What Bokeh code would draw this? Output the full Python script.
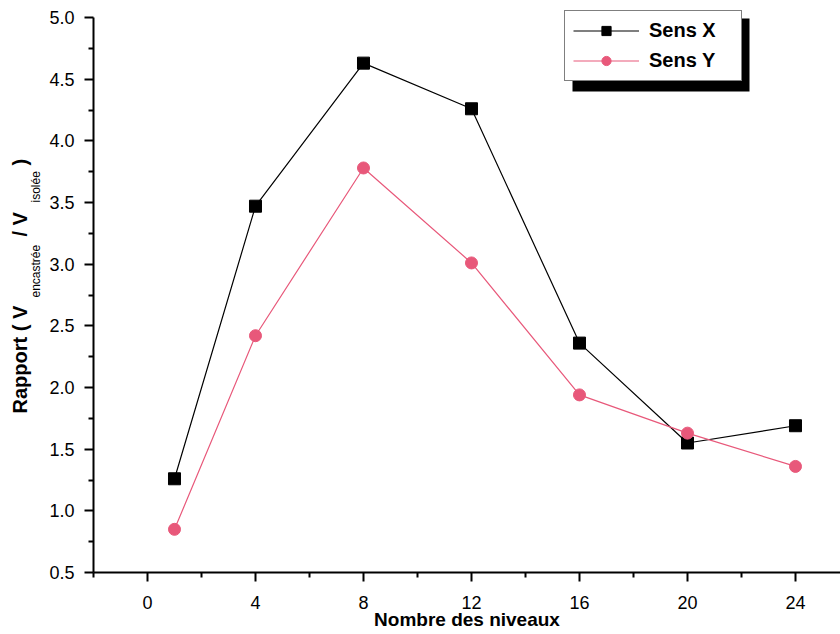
import math
from bokeh.plotting import figure
from bokeh.layouts import row
from bokeh.models import (FixedTicker, Legend, LegendItem, Label, BoxAnnotation,
                          Range1d)
from bokeh.embed import file_html
from bokeh.resources import INLINE

# ---- data ----
niveaux = [1, 4, 8, 12, 16, 20, 24]
sens_x = [1.26, 3.47, 4.63, 4.26, 2.36, 1.55, 1.69]
sens_y = [0.85, 2.42, 3.78, 3.01, 1.94, 1.63, 1.36]

x_ticks = [0, 4, 8, 12, 16, 20, 24]
x_minor = [-2, 2, 6, 10, 14, 18, 22]
y_ticks = [0.5, 1.0, 1.5, 2.0, 2.5, 3.0, 3.5, 4.0, 4.5, 5.0]
y_minor = [0.75, 1.25, 1.75, 2.25, 2.75, 3.25, 3.75, 4.25, 4.75]
y_tick_labels = ["0.5", "1.0", "1.5", "2.0", "2.5", "3.0", "3.5", "4.0", "4.5", "5.0"]

PINK = "#e8587a"
FONT = "Liberation Sans"
H = 634
LW = 44          # width of the strip holding the y-axis title
TOP = 8          # frame top (px)
BOTTOM = 572     # frame bottom (px)

p = figure(width=840 - LW, height=H, output_backend="svg", toolbar_location=None,
           x_range=Range1d(-2, 25.667), y_range=Range1d(0.5, 5.073),
           min_border_left=93 - LW, min_border_right=0, min_border_top=TOP,
           min_border_bottom=H - BOTTOM)
p.grid.visible = False
p.outline_line_color = None
p.background_fill_color = "white"
p.border_fill_color = "white"

for ax in (p.xaxis[0], p.yaxis[0]):
    ax.axis_line_width = 2
    ax.axis_line_color = "black"
    ax.major_tick_line_width = 2
    ax.minor_tick_line_width = 2
    ax.major_tick_line_color = "black"
    ax.minor_tick_line_color = "black"
    ax.major_tick_in = 0
    ax.major_tick_out = 9
    ax.minor_tick_in = 0
    ax.minor_tick_out = 5
    ax.major_label_text_font = FONT
    ax.major_label_text_color = "black"
    ax.major_label_text_font_size = "18px"

p.xaxis.ticker = FixedTicker(ticks=x_ticks, minor_ticks=x_minor)
p.yaxis.ticker = FixedTicker(ticks=y_ticks, minor_ticks=y_minor)
p.yaxis.bounds = (y_ticks[0], y_ticks[-1])
p.yaxis.major_label_overrides = {t: l for t, l in zip(y_ticks, y_tick_labels)}
p.xaxis.major_label_standoff = 14
p.yaxis.major_label_standoff = 10

p.xaxis.axis_label = "Nombre des niveaux"
p.xaxis.axis_label_text_font = FONT
p.xaxis.axis_label_text_font_style = "bold"
p.xaxis.axis_label_text_font_size = "19px"
p.xaxis.axis_label_text_color = "black"
p.xaxis.axis_label_standoff = -3

r1 = p.line(niveaux, sens_x, line_color="black", line_width=1.2)
s1 = p.scatter(niveaux, sens_x, marker="square", size=12,
               fill_color="black", line_color="black")
r2 = p.line(niveaux, sens_y, line_color=PINK, line_width=1.2)
s2 = p.scatter(niveaux, sens_y, marker="circle", size=12,
               fill_color=PINK, line_color=PINK)

# legend shadow (screen units, relative to the frame's bottom-left)
shadow = BoxAnnotation(left=572 - 93, right=749 - 93,
                       top=BOTTOM - 18, bottom=BOTTOM - 91,
                       left_units="screen", right_units="screen",
                       top_units="screen", bottom_units="screen",
                       fill_color="black", fill_alpha=1.0, line_color=None)
p.add_layout(shadow)

legend = Legend(items=[LegendItem(label="Sens X", renderers=[r1, s1]),
                       LegendItem(label="Sens Y", renderers=[r2, s2])],
                location=(564 - 93, BOTTOM - 81), orientation="vertical",
                border_line_color="black", border_line_width=1.5,
                background_fill_color="white", background_fill_alpha=1.0,
                glyph_width=66, glyph_height=23, label_height=23,
                label_width=84, spacing=7, padding=8, margin=0,
                label_standoff=10, label_text_font=FONT,
                label_text_font_style="bold", label_text_font_size="20px",
                label_text_color="black")
p.add_layout(legend)

# ---- y-axis title strip (frame aligned with the main plot's frame) ----
t = figure(width=LW, height=H, output_backend="svg", toolbar_location=None,
           x_range=Range1d(0, LW), y_range=Range1d(H - BOTTOM, H - TOP),
           min_border=0, min_border_top=TOP, min_border_bottom=H - BOTTOM)
t.axis.visible = False
t.grid.visible = False
t.outline_line_color = None
t.background_fill_color = "white"
t.border_fill_color = "white"


def ylab(text, x, y_page, size, bold):
    t.add_layout(Label(x=x, y=H - y_page, text=text, angle=math.pi / 2,
                       text_font=FONT,
                       text_font_style="bold" if bold else "normal",
                       text_font_size=size, text_align="left",
                       text_baseline="alphabetic", text_color="black"))


ylab("Rapport ( V", 19, 413, "20px", True)
ylab("encastrée", 35, 297, "12px", False)
ylab("/ V", 19, 236, "20px", True)
ylab("isolée", 35, 202, "12px", False)
ylab(")", 19, 165, "20px", True)

layout = row(t, p, spacing=0)
open("out.html", "w").write(file_html(layout, INLINE))
